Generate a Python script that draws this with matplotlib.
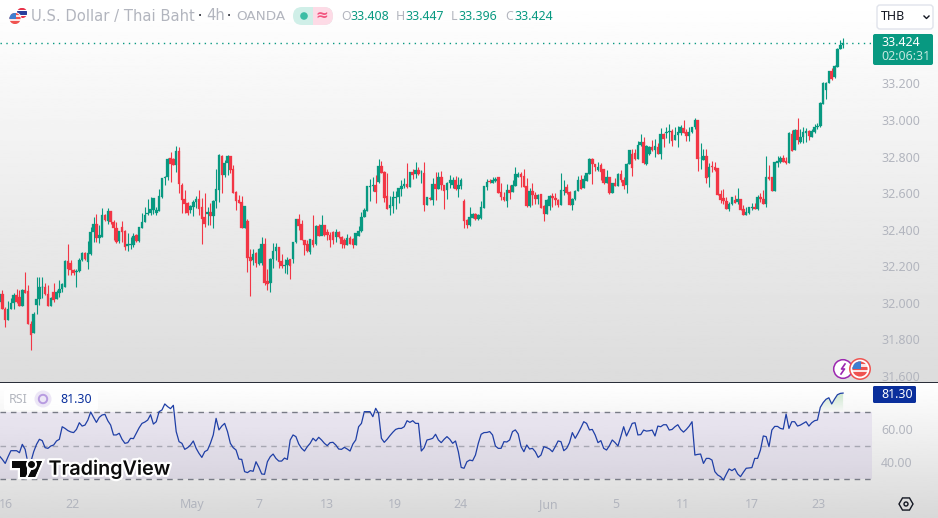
import numpy as np
import matplotlib
matplotlib.use("Agg")
import matplotlib.pyplot as plt
import matplotlib.patheffects as pe
from matplotlib.patches import Circle, FancyBboxPatch, Polygon, Rectangle, RegularPolygon

# USD/THB 4h candles
opens = [
    32.003,32.047,31.967,31.905,31.967,31.996,32.040,32.032,31.981,32.069,
    32.062,31.883,31.835,31.987,32.020,32.084,32.084,32.047,31.981,32.058,
    32.022,32.051,32.074,32.087,32.228,32.219,32.178,32.169,32.173,32.233,
    32.273,32.224,32.264,32.388,32.430,32.352,32.361,32.480,32.449,32.502,
    32.443,32.410,32.337,32.412,32.392,32.310,32.315,32.315,32.370,32.339,
    32.410,32.441,32.483,32.489,32.507,32.492,32.502,32.580,32.680,32.686,
    32.790,32.788,32.755,32.830,32.644,32.565,32.544,32.507,32.525,32.553,
    32.567,32.522,32.467,32.485,32.496,32.474,32.558,32.616,32.803,32.699,
    32.764,32.803,32.731,32.606,32.562,32.551,32.410,32.447,32.250,32.233,
    32.273,32.213,32.215,32.319,32.118,32.109,32.237,32.283,32.303,32.228,
    32.202,32.206,32.237,32.239,32.332,32.458,32.430,32.343,32.319,32.275,
    32.343,32.319,32.421,32.366,32.428,32.388,32.370,32.385,32.361,32.388,
    32.361,32.343,32.315,32.355,32.348,32.315,32.366,32.392,32.470,32.503,
    32.635,32.640,32.644,32.659,32.748,32.717,32.584,32.516,32.529,32.573,
    32.577,32.622,32.639,32.650,32.635,32.717,32.703,32.726,32.713,32.708,
    32.535,32.575,32.562,32.650,32.622,32.686,32.644,32.617,32.653,32.644,
    32.672,32.622,32.640,32.557,32.453,32.423,32.465,32.485,32.456,32.462,
    32.520,32.635,32.668,32.657,32.668,32.688,32.606,32.580,32.558,32.617,
    32.604,32.640,32.690,32.704,32.693,32.639,32.529,32.613,32.588,32.566,
    32.595,32.529,32.485,32.529,32.586,32.575,32.562,32.535,32.613,32.631,
    32.606,32.535,32.566,32.613,32.672,32.628,32.668,32.704,32.785,32.759,
    32.726,32.753,32.730,32.653,32.686,32.602,32.653,32.639,32.704,32.671,
    32.644,32.759,32.814,32.817,32.786,32.863,32.879,32.759,32.814,32.854,
    32.836,32.854,32.814,32.923,32.927,32.934,32.941,32.890,32.916,32.930,
    32.958,32.936,32.912,32.936,32.960,33.000,32.790,32.781,32.803,32.686,
    32.748,32.744,32.739,32.595,32.571,32.554,32.513,32.540,32.562,32.551,
    32.565,32.511,32.481,32.492,32.516,32.525,32.513,32.580,32.567,32.540,
    32.686,32.686,32.611,32.766,32.770,32.790,32.774,32.763,32.923,32.836,
    32.945,32.881,32.905,32.930,32.941,32.908,32.936,32.960,32.967,33.087,
    33.164,33.204,33.268,33.233,33.292,33.389,33.408,
]
highs = [
    32.051,32.069,31.974,32.007,32.025,32.051,32.074,32.069,32.074,32.168,
    32.096,31.899,31.950,32.140,32.140,32.140,32.109,32.096,32.032,32.109,
    32.069,32.124,32.109,32.233,32.319,32.233,32.182,32.182,32.242,32.279,
    32.279,32.337,32.416,32.470,32.485,32.425,32.516,32.483,32.516,32.502,
    32.452,32.443,32.392,32.447,32.397,32.379,32.361,32.379,32.376,32.416,
    32.489,32.525,32.567,32.576,32.573,32.525,32.620,32.684,32.693,32.792,
    32.823,32.790,32.857,32.850,32.653,32.616,32.553,32.534,32.562,32.584,
    32.616,32.571,32.598,32.525,32.547,32.562,32.731,32.814,32.808,32.781,
    32.808,32.803,32.753,32.611,32.589,32.584,32.529,32.456,32.292,32.292,
    32.279,32.297,32.357,32.352,32.184,32.242,32.325,32.328,32.303,32.264,
    32.237,32.251,32.237,32.334,32.458,32.485,32.452,32.343,32.343,32.348,
    32.480,32.425,32.430,32.480,32.428,32.406,32.385,32.392,32.406,32.392,
    32.366,32.352,32.374,32.366,32.355,32.379,32.421,32.498,32.516,32.640,
    32.675,32.690,32.699,32.786,32.776,32.723,32.712,32.584,32.613,32.613,
    32.626,32.672,32.681,32.765,32.717,32.730,32.768,32.745,32.726,32.768,
    32.580,32.578,32.681,32.717,32.717,32.721,32.644,32.662,32.699,32.690,
    32.695,32.686,32.681,32.567,32.456,32.522,32.493,32.489,32.484,32.557,
    32.639,32.675,32.675,32.686,32.686,32.688,32.653,32.608,32.650,32.644,
    32.672,32.741,32.713,32.713,32.730,32.681,32.626,32.653,32.608,32.595,
    32.595,32.535,32.566,32.588,32.599,32.602,32.566,32.712,32.672,32.648,
    32.613,32.571,32.617,32.693,32.699,32.699,32.708,32.790,32.794,32.759,
    32.772,32.763,32.730,32.726,32.686,32.657,32.680,32.708,32.726,32.686,
    32.763,32.836,32.839,32.839,32.887,32.923,32.907,32.863,32.857,32.890,
    32.896,32.872,32.954,32.930,32.963,32.978,32.949,32.963,32.969,32.972,
    33.000,32.949,32.963,32.963,33.009,33.000,32.872,32.839,32.839,32.763,
    32.775,32.772,32.739,32.616,32.620,32.580,32.553,32.580,32.587,32.626,
    32.567,32.534,32.525,32.525,32.547,32.543,32.589,32.598,32.616,32.803,
    32.753,32.690,32.772,32.803,32.803,32.808,32.795,32.936,32.945,32.949,
    33.009,32.949,32.960,32.954,32.945,32.949,32.978,32.985,33.100,33.210,
    33.210,33.270,33.283,33.301,33.392,33.438,33.447,
]
lows = [
    31.996,31.967,31.868,31.905,31.967,31.967,31.996,31.981,31.981,32.051,
    31.883,31.741,31.835,31.938,31.987,32.023,32.042,31.981,31.981,32.005,
    32.022,32.032,32.060,32.087,32.151,32.151,32.151,32.087,32.169,32.228,
    32.233,32.184,32.261,32.334,32.334,32.328,32.361,32.449,32.430,32.430,
    32.343,32.328,32.325,32.334,32.288,32.284,32.292,32.306,32.334,32.334,
    32.407,32.441,32.480,32.480,32.485,32.480,32.502,32.571,32.644,32.671,
    32.662,32.753,32.717,32.602,32.492,32.492,32.481,32.492,32.476,32.516,
    32.480,32.321,32.416,32.425,32.425,32.410,32.520,32.553,32.598,32.690,
    32.699,32.708,32.602,32.507,32.544,32.407,32.407,32.166,32.038,32.206,
    32.193,32.209,32.206,32.096,32.069,32.060,32.188,32.233,32.188,32.188,
    32.164,32.157,32.129,32.215,32.328,32.397,32.343,32.261,32.275,32.264,
    32.306,32.315,32.366,32.370,32.366,32.343,32.306,32.324,32.330,32.352,
    32.301,32.297,32.315,32.319,32.297,32.315,32.366,32.388,32.470,32.503,
    32.557,32.611,32.544,32.657,32.708,32.553,32.513,32.480,32.493,32.513,
    32.544,32.584,32.628,32.628,32.631,32.675,32.681,32.699,32.657,32.504,
    32.535,32.562,32.535,32.562,32.622,32.617,32.513,32.567,32.626,32.626,
    32.617,32.577,32.622,32.407,32.407,32.420,32.462,32.453,32.453,32.456,
    32.516,32.617,32.657,32.653,32.662,32.602,32.562,32.558,32.522,32.567,
    32.604,32.639,32.686,32.635,32.631,32.526,32.526,32.535,32.538,32.540,
    32.516,32.447,32.485,32.507,32.526,32.535,32.526,32.535,32.589,32.595,
    32.535,32.507,32.562,32.609,32.622,32.628,32.666,32.703,32.650,32.722,
    32.722,32.671,32.650,32.653,32.593,32.598,32.639,32.639,32.660,32.624,
    32.602,32.759,32.693,32.781,32.786,32.859,32.757,32.755,32.810,32.832,
    32.795,32.814,32.788,32.854,32.899,32.872,32.859,32.890,32.850,32.916,
    32.927,32.887,32.887,32.930,32.952,32.722,32.730,32.781,32.657,32.631,
    32.717,32.721,32.589,32.544,32.540,32.511,32.502,32.534,32.544,32.540,
    32.507,32.481,32.480,32.485,32.507,32.511,32.507,32.553,32.540,32.525,
    32.671,32.611,32.611,32.744,32.762,32.768,32.757,32.763,32.832,32.836,
    32.868,32.872,32.872,32.879,32.890,32.905,32.930,32.952,32.963,33.087,
    33.113,33.201,33.219,33.230,33.292,33.389,33.396,
]
closes = [
    32.047,31.967,31.905,31.967,31.996,32.040,32.003,31.981,32.069,32.054,
    31.883,31.824,31.938,32.020,32.085,32.087,32.047,31.981,32.027,32.014,
    32.058,32.074,32.102,32.230,32.184,32.178,32.164,32.173,32.233,32.273,
    32.241,32.270,32.388,32.430,32.352,32.370,32.480,32.452,32.502,32.443,
    32.410,32.334,32.392,32.388,32.306,32.319,32.319,32.365,32.339,32.412,
    32.441,32.480,32.489,32.512,32.573,32.507,32.584,32.680,32.686,32.788,
    32.757,32.755,32.830,32.649,32.562,32.540,32.492,32.531,32.553,32.567,
    32.514,32.458,32.430,32.496,32.474,32.556,32.620,32.810,32.699,32.764,
    32.803,32.726,32.602,32.558,32.547,32.407,32.529,32.246,32.230,32.264,
    32.219,32.292,32.319,32.109,32.102,32.237,32.283,32.303,32.224,32.200,
    32.206,32.233,32.202,32.332,32.458,32.419,32.343,32.315,32.282,32.348,
    32.315,32.421,32.366,32.428,32.370,32.370,32.343,32.343,32.388,32.361,
    32.319,32.315,32.352,32.324,32.315,32.379,32.392,32.470,32.507,32.638,
    32.640,32.644,32.608,32.750,32.712,32.571,32.513,32.535,32.577,32.577,
    32.626,32.639,32.650,32.631,32.713,32.699,32.726,32.704,32.717,32.535,
    32.577,32.567,32.650,32.622,32.690,32.644,32.613,32.653,32.670,32.672,
    32.622,32.644,32.672,32.447,32.423,32.469,32.485,32.456,32.480,32.522,
    32.639,32.661,32.659,32.672,32.675,32.602,32.577,32.562,32.617,32.602,
    32.644,32.704,32.703,32.690,32.635,32.529,32.613,32.588,32.567,32.589,
    32.520,32.485,32.562,32.584,32.575,32.560,32.535,32.617,32.617,32.602,
    32.535,32.567,32.613,32.672,32.622,32.675,32.708,32.785,32.759,32.741,
    32.744,32.717,32.653,32.686,32.602,32.653,32.639,32.704,32.671,32.640,
    32.759,32.836,32.737,32.784,32.863,32.879,32.763,32.857,32.854,32.836,
    32.857,32.814,32.923,32.896,32.936,32.938,32.887,32.916,32.936,32.960,
    32.930,32.912,32.936,32.963,33.000,32.786,32.794,32.803,32.682,32.744,
    32.744,32.726,32.589,32.562,32.554,32.513,32.540,32.576,32.547,32.565,
    32.507,32.481,32.496,32.522,32.522,32.514,32.580,32.567,32.540,32.688,
    32.677,32.611,32.770,32.775,32.790,32.772,32.763,32.930,32.832,32.945,
    32.890,32.905,32.934,32.938,32.912,32.941,32.963,32.967,33.091,33.201,
    33.201,33.268,33.222,33.295,33.387,33.410,33.424,
]

# RSI per bar
rsi = [
    43.7,41.7,39.3,43.3,46.9,46.9,46.9,45.7,50.7,47.7,
    39.3,40.3,46.3,50.7,53.7,52.9,48.7,48.3,49.7,50.3,
    52.7,53.7,61.2,60.2,58.9,58.1,57.7,59.6,63.6,61.6,
    62.2,65.2,70.0,66.8,63.8,66.8,68.2,68.6,64.8,62.2,
    56.3,56.3,57.3,53.7,51.3,51.7,54.3,54.1,57.3,60.6,
    63.2,64.0,65.2,68.4,62.8,64.2,70.2,71.2,74.8,73.2,
    72.0,74.0,58.3,52.3,51.3,47.7,48.7,50.3,52.7,48.3,
    45.3,42.9,46.3,47.3,51.3,56.3,66.2,59.3,61.6,63.2,
    58.3,51.3,48.7,47.3,41.9,41.7,34.4,33.8,35.0,34.6,
    40.3,37.0,33.0,32.8,40.3,43.3,44.9,42.3,40.7,40.7,
    42.5,41.7,53.3,56.3,55.3,50.9,48.3,46.7,49.3,51.3,
    54.3,52.7,54.9,53.3,51.3,49.9,51.7,51.9,50.3,47.9,
    47.7,48.9,47.9,46.7,50.9,53.3,61.2,63.2,70.2,70.2,
    70.2,67.2,72.2,69.2,54.3,51.9,53.7,55.9,57.9,59.6,
    60.2,60.2,61.2,64.8,63.8,64.8,63.2,63.2,46.7,48.7,
    53.3,53.7,54.3,56.7,53.3,51.7,53.7,55.3,53.7,51.3,
    52.7,46.3,36.9,36.4,40.3,41.3,40.9,44.3,51.3,56.7,
    57.7,57.8,58.3,56.3,49.7,48.3,48.3,52.3,52.1,53.3,
    58.3,59.3,56.9,49.3,46.3,50.3,47.9,48.3,46.3,42.9,
    44.3,49.3,48.7,47.9,46.3,49.3,52.7,52.3,46.9,48.3,
    51.7,57.7,54.3,57.3,60.6,64.2,63.2,59.3,59.6,56.3,
    51.7,52.9,48.3,47.3,49.9,53.3,51.7,49.7,55.3,61.2,
    55.7,59.3,63.2,63.6,56.3,56.5,59.2,58.6,58.8,59.2,
    55.7,61.6,61.2,62.4,62.4,59.2,59.6,61.2,62.4,59.6,
    58.0,59.6,61.6,64.2,44.3,44.7,44.9,39.3,42.3,42.3,
    41.3,34.4,32.4,31.4,29.4,32.8,36.0,35.0,36.2,33.0,
    31.4,34.0,36.4,36.6,36.8,42.3,42.3,47.3,55.7,55.3,
    49.3,59.2,61.4,61.4,60.2,59.8,68.8,60.2,64.2,64.2,
    61.6,62.2,63.2,64.2,61.6,63.6,64.8,65.2,72.8,75.6,
    77.6,78.5,74.8,77.7,80.3,81.1,81.3,
]

price_ticks = [31.6, 31.8, 32.0, 32.2, 32.4, 32.6, 32.8, 33.0, 33.2]
rsi_ticks = [40, 60]
time_labels = ["16", "22", "May", "7", "13", "19", "24", "Jun", "5", "11", "17", "23"]
time_bars = [2.3, 25.5, 67.4, 91.0, 114.9, 138.8, 161.6, 192.5, 216.3, 239.8, 264.0, 287.5]
last_price = closes[-1]
last_rsi = rsi[-1]

UP, DOWN = "#089981", "#f23645"
MUTED = "#b2b5be"
plt.rcParams["font.family"] = ["Noto Sans", "DejaVu Sans"]
SCALE_PT = 8.9
TITLE_FONT = ["DejaVu Sans"]

W, H = 938, 518
fig = plt.figure(figsize=(W / 100, H / 100), dpi=100)


def pane(top, bottom, right=872):
    return fig.add_axes([0, 1 - bottom / H, right / W, (bottom - top) / H], facecolor="none")


# Page background: two vertical gradients, one per pane
bg = fig.add_axes([0, 0, 1, 1], zorder=0)
for top, bottom, end in [(0, 382, 0.863), (382, 518, 0.848)]:
    grad = np.linspace(1.0, end, 256).reshape(-1, 1)
    bg.imshow(grad, cmap="gray", vmin=0, vmax=1, aspect="auto", extent=(0, W, bottom, top))
bg.set_xlim(0, W)
bg.set_ylim(H, 0)
bg.axis("off")

# Bar index <-> pixel scale shared by both panes
BAR_STEP, BAR_ORIGIN = 2.85, -0.5
xlim = ((0 - BAR_ORIGIN) / BAR_STEP, (872 - BAR_ORIGIN) / BAR_STEP)
bars = np.arange(len(closes))

# Price pane
ax = pane(0, 382)
ax.set_zorder(2)
ax.set_xlim(*xlim)
ax.set_ylim(33 - (382 - 120) / 182.7, 33 + 120 / 182.7)
o, h, l, c = map(np.array, (opens, highs, lows, closes))
colors = np.where(c >= o, UP, DOWN)
ax.vlines(bars, l, h, colors=colors, linewidth=0.8)
bottoms, heights = np.minimum(o, c), np.abs(c - o)
ax.bar(bars, heights, bottom=bottoms, width=0.88, color=colors, edgecolor=colors, linewidth=0.2)
ax.axhline(last_price, color=UP, linewidth=1.0, linestyle=(0, (1, 3.2)))
ax.yaxis.tick_right()
ax.set_yticks(price_ticks, [f"{t:.3f}" for t in price_ticks])
ax.tick_params(axis="y", length=0, pad=6.5, labelsize=SCALE_PT, labelcolor=MUTED)
ax.set_xticks([])
for s in ax.spines.values():
    s.set_visible(False)

# RSI pane
ar = pane(383, 490)
ar.set_zorder(2)
ar.axhspan(30, 70, color="#7e57c2", alpha=0.1, linewidth=0)
ar.axhline(70, color="#787b86", linewidth=1, linestyle=(0, (4, 3.5)))
ar.axhline(50, color="#787b86", linewidth=1, alpha=0.55, linestyle=(0, (4, 3.5)))
ar.axhline(30, color="#787b86", linewidth=1, linestyle=(0, (4, 3.5)))
rsi_arr = np.array(rsi)
overbought = ar.fill_between(bars, 70, rsi_arr, where=rsi_arr >= 70, interpolate=True, color="none")
green = np.zeros((64, 1, 4))
green[..., :3] = matplotlib.colors.to_rgb("#4caf50")
green[..., 3] = np.linspace(0.3, 0.0, 64).reshape(-1, 1)
im = ar.imshow(green, aspect="auto", extent=(xlim[0], xlim[1], 70, 82), origin="upper", zorder=1.5)
im.set_clip_path(overbought.get_paths()[-1], transform=ar.transData)
ar.set_xlim(*xlim)
ar.set_ylim(30 - 11 / 1.675, 30 + 96 / 1.675)
ar.plot(bars, rsi_arr, color="#1f3fa6", linewidth=0.9, zorder=3)
ar.yaxis.tick_right()
ar.set_yticks(rsi_ticks, [f"{t:.2f}" for t in rsi_ticks])
ar.tick_params(axis="y", length=0, pad=6.5, labelsize=SCALE_PT, labelcolor=MUTED)
ar.set_xticks(time_bars, time_labels)
ar.tick_params(axis="x", length=0, pad=5.5, labelsize=SCALE_PT, labelcolor=MUTED)
for t in ar.get_xticklabels():
    if t.get_text() in ("May", "Jun"):
        t.set_fontweight("semibold")
for s in ar.spines.values():
    s.set_visible(False)

# Chart furniture on a pixel-addressed overlay
ui = fig.add_axes([0, 0, 1, 1], facecolor="none", zorder=5)
ui.set_xlim(0, W)
ui.set_ylim(H, 0)
ui.axis("off")
ui.add_patch(Rectangle((0, 381.6), W, 1.5, color="#2a2e39", linewidth=0))


def flag(cx, cy, r, kind):
    clip = Circle((cx, cy), r, transform=ui.transData)
    ui.add_patch(Circle((cx, cy), r + 0.9, facecolor="white", edgecolor="none"))
    if kind == "th":
        rows = [(-1, -0.55, "#e8334a"), (-0.55, -0.35, "white"), (-0.35, 0.35, "#2a3f9d"),
                (0.35, 0.55, "white"), (0.55, 1, "#e8334a")]
    else:
        rows = [(-1, -0.6, "#ef5350"), (-0.6, -0.25, "#fbe4e4"), (-0.25, 0.1, "#ef5350"),
                (0.1, 0.45, "#fbe4e4"), (0.45, 1, "#ef5350")]
    for a, b, col in rows:
        p = Rectangle((cx - r, cy + a * r), 2 * r, (b - a) * r, facecolor=col, linewidth=0)
        ui.add_patch(p)
        p.set_clip_path(clip)
    if kind == "us":
        p = Rectangle((cx - r, cy - r), r * 1.1, r * 1.05, facecolor="#3f7fd0", linewidth=0)
        ui.add_patch(p)
        p.set_clip_path(clip)


flag(22, 13, 5.2, "th")
flag(15, 18.5, 5.6, "us")
ui.text(31, 16, "U.S. Dollar / Thai Baht", color=MUTED, fontsize=10.6, va="center", ha="left", family=TITLE_FONT)
ui.text(199.5, 16, "·", color="#131722", fontsize=11, va="center", ha="center", fontweight="bold")
ui.text(206, 16, "4h", color=MUTED, fontsize=10.6, va="center", ha="left", family=TITLE_FONT)
ui.text(229, 16, "·", color="#131722", fontsize=11, va="center", ha="center", fontweight="bold")
ui.text(236, 16, "OANDA", color=MUTED, fontsize=9.7, va="center", ha="left", family=TITLE_FONT)

left = FancyBboxPatch((293, 7), 40, 18, boxstyle="round,pad=0,rounding_size=9", facecolor="#d0efe8", linewidth=0)
ui.add_patch(left)
right = FancyBboxPatch((293, 7), 40, 18, boxstyle="round,pad=0,rounding_size=9", facecolor="#fddbe6", linewidth=0)
ui.add_patch(right)
right.set_clip_path(Rectangle((313, 0), 30, 40, transform=ui.transData))
ui.add_patch(Circle((304, 16), 3.8, facecolor="#3dbda5", linewidth=0))
ui.text(321.5, 16, "≈", color="#f2557f", fontsize=11, va="center", ha="center", fontweight="bold")

for x, letter, val in [(341, "O", opens[-1]), (396, "H", highs[-1]), (451, "L", lows[-1]), (505, "C", closes[-1])]:
    ui.text(x, 16.5, letter, color=MUTED, fontsize=SCALE_PT, va="center", ha="left")
    ui.text(x + (9.5 if letter != "L" else 7), 16.5, f"{val:.3f}", color=UP, fontsize=SCALE_PT, va="center", ha="left")

# Currency selector
ui.add_patch(FancyBboxPatch((877, 5), 56, 24, boxstyle="round,pad=0,rounding_size=3",
                            facecolor="white", edgecolor="#e0e3eb", linewidth=1))
ui.text(881, 17, "THB", color="#131722", fontsize=SCALE_PT, va="center", ha="left")
ui.plot([924, 926.5, 929], [16, 18.5, 16], color="#131722", linewidth=1)

# Last price and RSI flags on the scale
ui.add_patch(FancyBboxPatch((873, 34), 60, 31, boxstyle="round,pad=0,rounding_size=2",
                            facecolor=UP, linewidth=0))
ui.text(881, 42.5, f"{last_price:.3f}", color="white", fontsize=SCALE_PT, va="center", ha="left", fontweight="semibold")
ui.text(881, 57, "02:06:31", color="#c3e8df", fontsize=SCALE_PT, va="center", ha="left")
ui.add_patch(FancyBboxPatch((873, 386), 43, 17, boxstyle="round,pad=0,rounding_size=1.5",
                            facecolor="#0a2f9c", linewidth=0))
ui.text(881, 394.7, f"{last_rsi:.2f}", color="white", fontsize=SCALE_PT, va="center", ha="left", fontweight="semibold")

# RSI legend
ui.add_patch(FancyBboxPatch((4, 390), 94, 20, boxstyle="round,pad=0,rounding_size=2",
                            facecolor="white", alpha=0.85, linewidth=0))
ui.text(9, 399.5, "RSI", color=MUTED, fontsize=SCALE_PT, va="center", ha="left")
ui.add_patch(Circle((43, 399), 8.5, facecolor="#ece6f6", linewidth=0))
ui.add_patch(Circle((43, 399), 4.2, facecolor="none", edgecolor="#b79be0", linewidth=1.4))
ui.text(60, 399.5, f"{last_rsi:.2f}", color="#0a2f9c", fontsize=SCALE_PT, va="center", ha="left")

# Event markers above the pane divider
ui.add_patch(Circle((843, 369), 9.3, facecolor="white", edgecolor="#9c27b0", linewidth=1.1))
ui.plot([845, 841.5, 844.5, 841], [364, 369, 369, 374], color="#9c27b0", linewidth=1.2)
ui.add_patch(Circle((860, 369), 10.2, facecolor="white", edgecolor="#ef5350", linewidth=1.1))
flag(860, 369, 7.6, "us")

# Scale settings button
ui.add_patch(RegularPolygon((906, 504), 6, radius=7, orientation=np.pi / 2,
                            facecolor="none", edgecolor="#131722", linewidth=1))
ui.add_patch(Circle((906, 504), 2, facecolor="none", edgecolor="#131722", linewidth=1))

# Vendor mark
halo = [pe.withStroke(linewidth=3.2, foreground="white")]
for patch in (Polygon([(12, 461), (27, 461), (27, 477), (20, 477), (20, 468), (12, 468)], facecolor="#0b0b0b"),
              Polygon([(36, 461), (42, 461), (35, 477), (28, 477)], facecolor="#0b0b0b"),
              Circle((31.5, 464.5), 3.3, facecolor="#0b0b0b")):
    patch.set_path_effects(halo + [pe.Normal()])
    ui.add_patch(patch)
ui.text(48.5, 469.5, "TradingView", color="#0b0b0b", fontsize=14.2, va="center", ha="left",
        family=["Inter", "DejaVu Sans"], fontweight="semibold",
        path_effects=[pe.withStroke(linewidth=3.2, foreground="white")])

fig.savefig("out.png", dpi=100)
